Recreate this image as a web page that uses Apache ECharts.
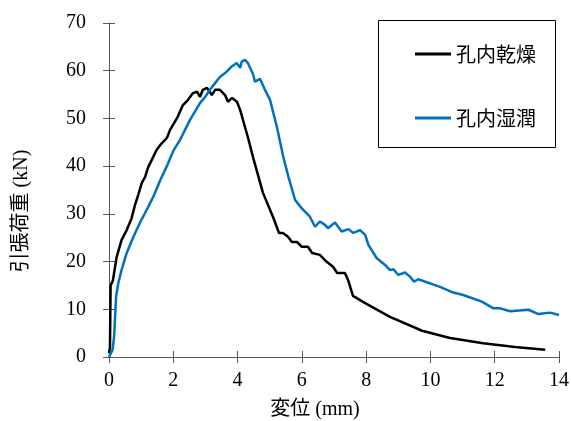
<!DOCTYPE html>
<html><head><meta charset="utf-8">
<script src="https://cdn.jsdelivr.net/npm/echarts@6/dist/echarts.min.js"></script>
<style>html,body{margin:0;padding:0;background:#fff}#c{width:571px;height:421px}</style>
</head><body><div id="c"></div>
<script>
const seriesNames = ['孔内乾燥', '孔内湿潤'];
const xTicks = [0, 2, 4, 6, 8, 10, 12, 14];
const yTicks = [0, 10, 20, 30, 40, 50, 60, 70];
const dryX = [0, 0.03, 0.05, 0.12, 0.24, 0.39, 0.55, 0.7, 0.81, 0.91, 1.02, 1.12, 1.22, 1.38, 1.48, 1.59, 1.8, 1.9, 2.12, 2.3, 2.46, 2.61, 2.74, 2.83, 2.92, 3.05, 3.2, 3.3, 3.45, 3.61, 3.7, 3.83, 3.98, 4.08, 4.23, 4.32, 4.48, 4.79, 5.1, 5.29, 5.41, 5.57, 5.69, 5.85, 6.0, 6.19, 6.32, 6.56, 6.78, 6.97, 7.1, 7.34, 7.44, 7.59, 7.97, 8.74, 9.74, 10.61, 11.64, 12.63, 13.57];
const dryY = [0.8, 2, 15, 16, 21, 24.5, 26.6, 29, 31.9, 34, 36.5, 37.7, 39.8, 42, 43.4, 44.4, 45.9, 47.6, 50.1, 52.8, 53.9, 55.3, 55.6, 54.5, 56, 56.4, 54.9, 56, 56, 54.9, 53.5, 54.3, 53.5, 51.8, 48.2, 46.1, 41.9, 34.4, 29.4, 26, 26, 25.2, 24.1, 24.1, 23.1, 23.1, 21.8, 21.4, 19.9, 18.9, 17.6, 17.6, 16.1, 12.8, 11.3, 8.4, 5.5, 4.0, 2.9, 2.1, 1.5];
const wetX = [0, 0.11, 0.16, 0.19, 0.22, 0.29, 0.39, 0.55, 0.76, 0.96, 1.17, 1.38, 1.59, 1.8, 2.0, 2.21, 2.52, 2.83, 2.99, 3.14, 3.3, 3.45, 3.66, 3.82, 3.97, 4.08, 4.13, 4.23, 4.32, 4.48, 4.54, 4.7, 4.85, 5.01, 5.22, 5.42, 5.58, 5.79, 5.99, 6.25, 6.41, 6.56, 6.72, 6.81, 7.03, 7.24, 7.45, 7.6, 7.81, 7.97, 8.07, 8.33, 8.59, 8.74, 8.85, 9.0, 9.21, 9.37, 9.49, 9.62, 10.3, 10.71, 11.02, 11.6, 11.96, 12.17, 12.48, 13.05, 13.36, 13.72, 14.0];
const wetY = [0, 1.5, 4.3, 8.5, 12.6, 15.5, 18.2, 21.8, 25.2, 28.1, 30.8, 33.6, 37, 40, 43.2, 45.5, 49.7, 53.2, 54.5, 56, 57.4, 58.7, 59.8, 60.9, 61.6, 60.6, 61.9, 62.3, 61.6, 59.3, 57.7, 58.3, 56, 53.9, 48.3, 42, 37.8, 32.9, 31.2, 29.4, 27.3, 28.4, 27.7, 27, 28.2, 26.3, 26.8, 26, 26.6, 25.6, 23.5, 20.7, 19.3, 18.2, 18.4, 17.2, 17.7, 16.8, 15.8, 16.3, 14.7, 13.5, 13, 11.6, 10.2, 10.2, 9.6, 9.9, 9.0, 9.3, 8.8];

const pair = (xs, ys) => xs.map((x, i) => [x, ys[i]]);
const serif = '"Liberation Serif", "Noto Sans CJK JP", serif';
const axisCol = '#595959';
const xBase = {type: 'value', min: xTicks[0], max: xTicks[xTicks.length - 1], interval: 2, splitLine: {show: false}};
const yBase = {type: 'value', min: yTicks[0], max: yTicks[yTicks.length - 1], interval: 10, splitLine: {show: false}};

const chart = echarts.init(document.getElementById('c'), null, {renderer: 'canvas'});
chart.setOption({
  animation: false,
  backgroundColor: '#fff',
  grid: {left: 109, right: 12, top: 23, bottom: 64, containLabel: false, outerBoundsMode: 'none'},
  graphic: [{type: 'rect', left: 378, top: 20, shape: {width: 177, height: 127}, style: {fill: '#fff', stroke: '#000', lineWidth: 1}, z: 5}],
  legend: {
    z: 10, orient: 'vertical', left: 410, top: 39, icon: 'rect', itemWidth: 36, itemHeight: 3, itemGap: 44,
    textStyle: {fontFamily: '"Noto Sans CJK JP", sans-serif', fontSize: 20, color: '#000'},
    data: seriesNames
  },
  xAxis: [
    Object.assign({}, xBase, {
      name: '変位 (mm)', nameLocation: 'middle', nameGap: 43,
      nameTextStyle: {fontFamily: serif, fontSize: 20, color: '#000', padding: [0, 38, 0, 0]},
      axisLine: {lineStyle: {color: axisCol, width: 1}},
      axisTick: {inside: false, length: 6, lineStyle: {color: axisCol}},
      axisLabel: {margin: 14, fontFamily: serif, fontSize: 20, color: '#000'}
    }),
    Object.assign({}, xBase, {
      position: 'bottom', axisLine: {show: false}, axisLabel: {show: false},
      axisTick: {inside: true, length: 6, lineStyle: {color: axisCol}}
    })
  ],
  yAxis: [
    Object.assign({}, yBase, {
      name: '引張荷重 (kN)', nameLocation: 'middle', nameGap: 77, nameRotate: 90,
      nameTextStyle: {fontFamily: serif, fontSize: 20, color: '#000', padding: [0, 42, 0, 0]},
      axisLine: {show: true, lineStyle: {color: axisCol, width: 1}},
      axisTick: {show: true, inside: false, length: 6, lineStyle: {color: axisCol}},
      axisLabel: {margin: 23, fontFamily: serif, fontSize: 20, color: '#000'}
    }),
    Object.assign({}, yBase, {
      position: 'left', axisLine: {show: false}, axisLabel: {show: false},
      axisTick: {show: true, inside: true, length: 6, lineStyle: {color: axisCol}}
    })
  ],
  series: [
    {name: seriesNames[0], type: 'line', data: pair(dryX, dryY), symbol: 'none', clip: false,
     lineStyle: {color: '#000000', width: 2.5}, itemStyle: {color: '#000000'}},
    {name: seriesNames[1], type: 'line', data: pair(wetX, wetY), symbol: 'none', clip: false,
     lineStyle: {color: '#0070C0', width: 2.5}, itemStyle: {color: '#0070C0'}}
  ]
});
</script>
</body></html>
